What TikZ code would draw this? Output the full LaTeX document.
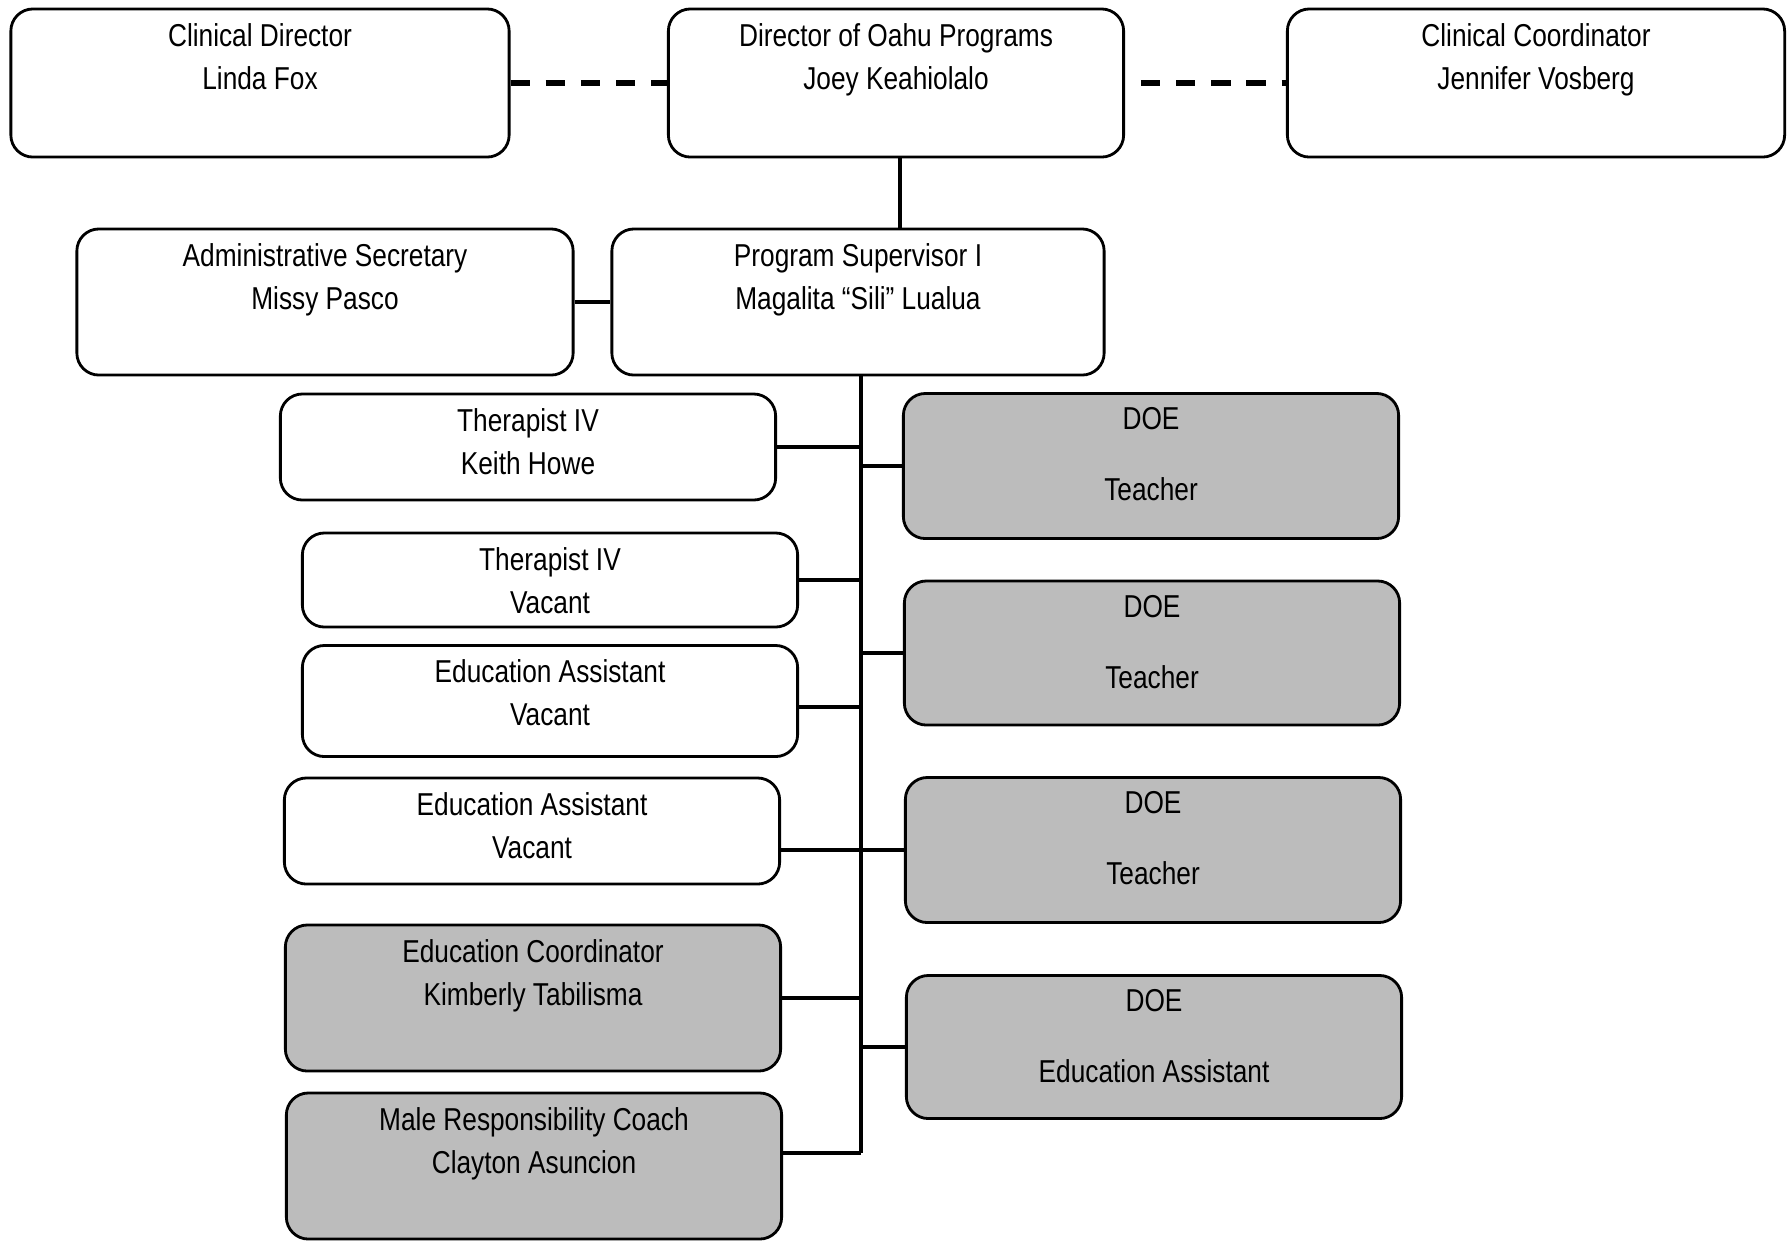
\documentclass[tikz,border=0pt]{standalone}
\usepackage{fontspec}
\newfontfamily\orgfont[FakeStretch=0.83]{Liberation Sans}
\usepackage{tikz}
\usetikzlibrary{positioning}
\definecolor{doegray}{RGB}{188,188,188}
\tikzset{
  orgnode/.style = {rectangle, rounded corners=0.22cm, draw=black,
    line width=0.8pt, minimum width=4.95cm},
  org_w/.style = {orgnode, fill=white},% staff box, white
  org_g/.style = {orgnode, fill=doegray},% staff box, grey
  org_t/.style = {anchor=north, align=center, inner sep=0pt, yshift=-0.15cm,
    font=\orgfont\fontsize{9}{12.2}\selectfont},% text at top of box
  link/.style = {line width=1.3pt},
  dashlink/.style = {line width=1.6pt, dash pattern=on 5.5pt off 4.5pt}
}

\begin{document}
\begin{tikzpicture}[x=0.01cm, y=-0.01cm]
        \useasboundingbox (0,0) rectangle (1787,1241);
        % top row
        \node [org_w, minimum width=4.98cm, minimum height=1.48cm,
          label={[org_t]north:Clinical Director\\Linda Fox}] (cd) at (260,83) {};
        \node [org_w, minimum width=4.55cm, minimum height=1.48cm,
          label={[org_t]north:Director of Oahu Programs\\Joey Keahiolalo}] (dop) at (896,83) {};
        \node [org_w, minimum width=4.97cm, minimum height=1.48cm,
          label={[org_t]north:Clinical Coordinator\\Jennifer Vosberg}] (cc) at (1536,83) {};
        % second row
        \node [org_w, minimum width=4.96cm, minimum height=1.46cm,
          label={[org_t]north:Administrative Secretary\\Missy Pasco}] (as) at (325,302) {};
        \node [org_w, minimum width=4.92cm, minimum height=1.46cm,
          label={[org_t]north:Program Supervisor I\\Magalita “Sili” Lualua}] (ps) at (858,302) {};
        % left column
        \node [org_w, minimum height=1.06cm,
          label={[org_t]north:Therapist IV\\Keith Howe}] (t1) at (528,447) {};
        \node [org_w, minimum height=0.94cm,
          label={[org_t]north:Therapist IV\\Vacant}] (t2) at (550,580) {};
        \node [org_w, minimum height=1.11cm,
          label={[org_t]north:Education Assistant\\Vacant}] (ea1) at (550,701) {};
        \node [org_w, minimum height=1.06cm,
          label={[org_t]north:Education Assistant\\Vacant}] (ea2) at (532,831) {};
        \node [org_g, minimum height=1.46cm,
          label={[org_t]north:Education Coordinator\\Kimberly Tabilisma}] (ec) at (533,998) {};
        \node [org_g, minimum height=1.46cm,
          label={[org_t]north:Male Responsibility Coach\\Clayton Asuncion}] (mrc) at (534,1166) {};
        % right column
        \node [org_g, minimum height=1.45cm,
          label={[org_t]north:DOE\\[0.28cm]Teacher}] (doe1) at (1151,466) {};
        \node [org_g, minimum height=1.44cm,
          label={[org_t]north:DOE\\[0.28cm]Teacher}] (doe2) at (1152,653) {};
        \node [org_g, minimum height=1.45cm,
          label={[org_t]north:DOE\\[0.28cm]Teacher}] (doe3) at (1153,850) {};
        \node [org_g, minimum height=1.43cm,
          label={[org_t]north:DOE\\[0.28cm]Education Assistant}] (doe4) at (1154,1047) {};
        \coordinate (tend) at (861,1153);
        \coordinate (dropx) at (900,0);

        \draw [dashlink] (cd) -- (dop);
        \draw [dashlink, dash phase=5.5pt] (dop) -- (cc);
        \draw [link] (dop.south -| dropx) -- (ps.north -| dropx);
        \draw [link] (as) -- (ps);
        \draw [link] (ps.south -| tend) -- (tend);
        \draw [link] (t1.east) -- (t1.east -| tend);
        \draw [link] (t2.east) -- (t2.east -| tend);
        \draw [link] ([yshift=-0.06cm]ea1.east) -- ([yshift=-0.06cm]ea1.east -| tend);
        \draw [link] (ea2.east |- doe3.west) -- (doe3.west);
        \draw [link] (ec.east) -- (ec.east -| tend);
        \draw [link] (mrc.east |- tend) -- (tend);
        \draw [link] (doe1.west) -- (doe1.west -| tend);
        \draw [link] (doe2.west) -- (doe2.west -| tend);
        \draw [link] (doe4.west) -- (doe4.west -| tend);
\end{tikzpicture}
\end{document}
